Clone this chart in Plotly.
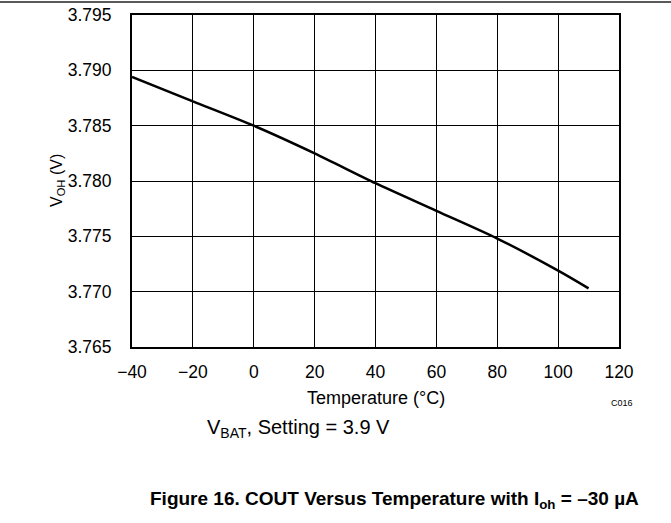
import plotly.graph_objects as go

temps = [-40, -20, 0, 20, 40, 60, 80, 100, 110]
voh = [3.7894, 3.7872, 3.7850, 3.7825, 3.7798, 3.7773, 3.7748, 3.7719, 3.7703]
x_ticks = [-40, -20, 0, 20, 40, 60, 80, 100, 120]
x_tick_text = ["\u221240", "\u221220", "0", "20", "40", "60", "80", "100", "120"]
y_ticks = [3.765, 3.770, 3.775, 3.780, 3.785, 3.790, 3.795]
y_tick_text = ["3.765", "3.770", "3.775", "3.780", "3.785", "3.790", "3.795"]

FONT = "Arial, Liberation Sans, sans-serif"

fig = go.Figure()
fig.add_trace(go.Scatter(x=temps, y=voh, mode="lines",
                         line=dict(color="black", width=2.5, shape="spline", smoothing=0.8),
                         showlegend=False))

W, H = 671, 523
L, R, T, B = 132, 52, 15, 176

fig.update_layout(
    width=W, height=H,
    margin=dict(l=L, r=R, t=T, b=B, autoexpand=False),
    paper_bgcolor="white", plot_bgcolor="white",
    font=dict(family=FONT, size=17, color="black"),
    xaxis=dict(range=[-40, 120], tickvals=x_ticks, ticktext=x_tick_text,
               showgrid=True, gridcolor="black", gridwidth=1,
               showline=True, linecolor="black", linewidth=2, mirror=True,
               zeroline=False, ticks="", ticklabelstandoff=8, automargin=False,
               tickfont=dict(size=17.5, family=FONT)),
    yaxis=dict(range=[3.765, 3.795], tickvals=y_ticks, ticktext=y_tick_text,
               showgrid=True, gridcolor="black", gridwidth=1,
               showline=True, linecolor="black", linewidth=2, mirror=True,
               zeroline=False, ticks="", ticklabelstandoff=15, automargin=False,
               tickfont=dict(size=17.5, family=FONT)),
)

pw = W - L - R
ph = H - T - B


def px(x):
    return (x - L) / pw


def py(y):
    return (H - B - y) / ph


# top rule across page
fig.add_shape(type="line", xref="paper", yref="paper",
              x0=px(0), x1=px(W), y0=py(2), y1=py(2),
              line=dict(color="#222222", width=1.5))

annots = [
    dict(text="V<sub>OH</sub> (V)", x=px(57), y=py(181), textangle=-90, size=16),
    dict(text="Temperature (\u00b0C)", x=px(376), y=py(398), size=18),
    dict(text="C016", x=px(622), y=py(403), size=9),
    dict(text="V<sub>BAT</sub>, Setting = 3.9 V", x=px(298), y=py(428), size=20),
    dict(text="<b>Figure 16. COUT Versus Temperature with I<sub>oh</sub> = \u201330 \u00b5A</b>",
         x=px(394), y=py(500), size=19),
]
for a in annots:
    fig.add_annotation(text=a["text"], xref="paper", yref="paper",
                       x=a["x"], y=a["y"], xanchor="center", yanchor="middle",
                       showarrow=False, textangle=a.get("textangle", 0),
                       font=dict(family=FONT, size=a["size"], color="black"))

fig.write_html("out.html", post_script="document.body.style.margin='0';",
               config={"displayModeBar": False})
